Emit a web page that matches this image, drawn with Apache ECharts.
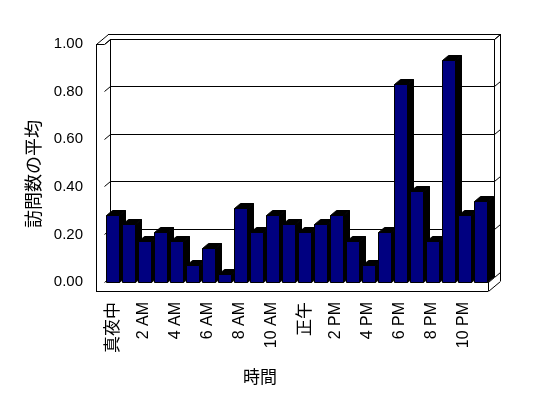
<!DOCTYPE html>
<html>
<head>
<meta charset="utf-8">
<script src="https://cdn.jsdelivr.net/npm/echarts@6/dist/echarts.min.js"></script>
<style>html,body{margin:0;padding:0;background:#fff}#c{width:548px;height:398px}</style>
</head>
<body>
<div id="c"></div>
<script>
const hours = ['真夜中','1 AM','2 AM','3 AM','4 AM','5 AM','6 AM','7 AM','8 AM','9 AM','10 AM','11 AM',
               '正午','1 PM','2 PM','3 PM','4 PM','5 PM','6 PM','7 PM','8 PM','9 PM','10 PM','11 PM'];
const visits = [0.28,0.24,0.17,0.21,0.17,0.07,0.14,0.03,0.31,0.21,0.28,0.24,
                0.21,0.24,0.28,0.17,0.07,0.21,0.83,0.38,0.17,0.93,0.28,0.34];
const yTicks = [0,0.2,0.4,0.6,0.8,1.0];
const yTitle = '訪問数の平均';
const xTitle = '時間';

const DX = 6, DY = -5, WALL = 8, FLOOR = 9;
const LS = {stroke:'#000', lineWidth:1, fill:null};
function snap(v){ return Math.round(v - 0.5) + 0.5; }

function line(x1,y1,x2,y2){
  if (x1 === x2) { x1 = x2 = snap(x1); y1 = Math.round(y1); y2 = Math.round(y2); }
  else if (y1 === y2) { y1 = y2 = snap(y1); x1 = Math.round(x1); x2 = Math.round(x2); }
  else { x1 = snap(x1); x2 = snap(x2); y1 = snap(y1); y2 = snap(y2); }
  return {type:'line', shape:{x1:x1,y1:y1,x2:x2,y2:y2}, style:LS, silent:true};
}

function frameItem(params, api){
  const cs = params.coordSys;
  const L = cs.x, R = cs.x + cs.width, T = cs.y, B = cs.y + cs.height;
  const OL = L - WALL, FB = B + FLOOR;
  const ch = [];
  ch.push({type:'polygon', shape:{points:[[OL,T],[OL+2*DX,T+2*DY],[R+2*DX,T+2*DY],[R+2*DX,FB+2*DY],[R,FB],[OL,FB]]},
           style:{fill:'#fff', stroke:null}, silent:true});
  ch.push(line(OL,T,OL,FB));
  ch.push(line(OL,FB,R,FB));
  ch.push(line(R,FB,R+2*DX,FB+2*DY));
  ch.push(line(R+2*DX,FB+2*DY,R+2*DX,T+2*DY));
  ch.push(line(R+2*DX,T+2*DY,OL+2*DX,T+2*DY));
  ch.push(line(OL+2*DX,T+2*DY,OL,T));
  ch.push(line(OL,T,L,T));
  ch.push(line(L,T,L+DX,T+DY));
  ch.push(line(L+DX,T+DY,R+DX,T+DY));
  ch.push(line(L+DX,T+DY,L+DX,B+DY));
  ch.push(line(R+DX,T+DY,R+DX,B+DY));
  ch.push(line(R+DX,T+DY,R+2*DX,T+2*DY));
  ch.push(line(R,B,R,FB));
  ch.push(line(R,B,R+DX,B+DY));
  yTicks.forEach(function(v){
    const yf = api.coord([0, v])[1];
    ch.push(line(L,yf,L+DX,yf+DY));
    ch.push(line(L+DX,yf+DY,R+DX,yf+DY));
    ch.push(line(R+DX,yf+DY,R+2*DX,yf+2*DY));
  });
  return {type:'group', children:ch};
}

function barItem(params, api){
  const idx = api.value(0), v = api.value(1);
  const top = api.coord([idx, v]);
  const bot = api.coord([idx, 0]);
  const bw = api.size([1,0])[0];
  const x0 = snap(top[0] - bw/2 + 2), w = Math.round(bw - 3.5);
  const x1 = x0 + w, yt = snap(top[1]), yb = snap(bot[1]);
  return {type:'group', children:[
    {type:'polygon', shape:{points:[[x1,yb],[x1+DX,yb+DY],[x1+DX,yt+DY],[x1,yt]]},
     style:{fill:'#000', stroke:'#000', lineWidth:1}},
    {type:'polygon', shape:{points:[[x0,yt],[x0+DX,yt+DY],[x1+DX,yt+DY],[x1,yt]]},
     style:{fill:'#000', stroke:'#000', lineWidth:1}},
    {type:'rect', shape:{x:x0, y:yt, width:w, height:yb-yt},
     style:{fill:'#000080', stroke:'#000', lineWidth:1}}
  ]};
}

const chart = echarts.init(document.getElementById('c'), null, {renderer:'canvas'});
chart.setOption({
  animation:false,
  backgroundColor:'#fff',
  grid:{left:104, right:60, top:44, bottom:116, containLabel:false},
  xAxis:{
    type:'category', data:hours, boundaryGap:true,
    axisLine:{show:true, lineStyle:{color:'#000', width:1}},
    axisTick:{show:true, interval:0, length:9, lineStyle:{color:'#000', width:1}},
    axisLabel:{interval:1, rotate:90, margin:20, color:'#000', fontSize:16,
      fontFamily:'Liberation Sans, Noto Sans CJK JP',
      formatter:function(v){ return /^[\x00-\x7F]+$/.test(v) ? v : '{c|' + v + '}'; },
      rich:{c:{fontSize:17, fontFamily:'Noto Sans CJK JP', color:'#000'}}},
    splitLine:{show:false}
  },
  yAxis:{
    type:'value', min:0, max:1, interval:0.2,
    axisLine:{show:true, lineStyle:{color:'#000', width:1}},
    axisTick:{show:true, length:8, lineStyle:{color:'#000', width:1}},
    axisLabel:{margin:21, color:'#000', fontSize:15, fontFamily:'Liberation Sans',
      formatter:function(v){ return v.toFixed(2); }},
    splitLine:{show:false}
  },
  graphic:[
    {type:'text', x:33, y:174, rotation:Math.PI/2,
     style:{text:yTitle, fontSize:18, fontFamily:'Noto Sans CJK JP', fill:'#000', align:'center', verticalAlign:'middle'}},
    {type:'text', x:260, y:377,
     style:{text:xTitle, fontSize:17, fontFamily:'Noto Sans CJK JP', fill:'#000', align:'center', verticalAlign:'middle'}}
  ],
  series:[
    {type:'custom', name:'frame', renderItem:frameItem, data:[[0,0]], z:1, silent:true, clip:false},
    {type:'custom', name:'visits', renderItem:barItem, z:3, clip:false,
     encode:{x:0, y:1},
     data:visits.map(function(v,i){ return [i, v]; })}
  ]
});
</script>
</body>
</html>
